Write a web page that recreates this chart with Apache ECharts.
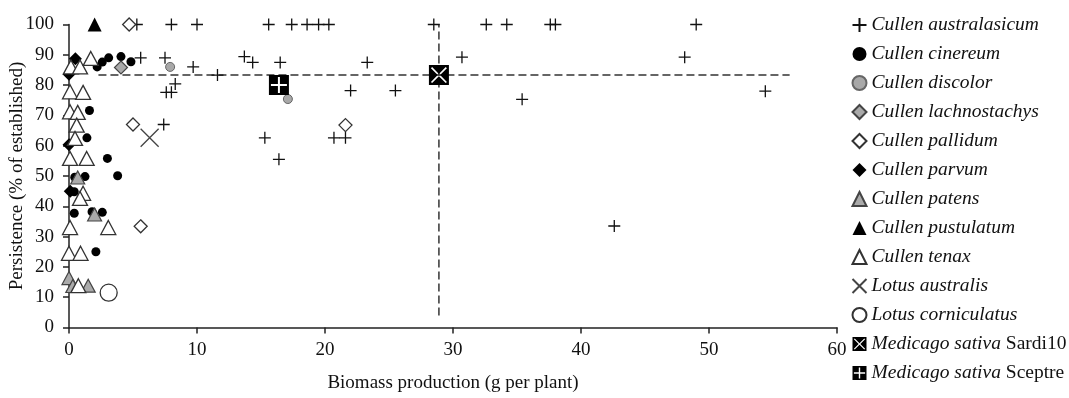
<!DOCTYPE html>
<html>
<head>
<meta charset="utf-8">
<script src="https://cdn.jsdelivr.net/npm/echarts@6/dist/echarts.min.js"></script>
<style>
html,body{margin:0;padding:0;background:#fff;}
#chart{width:1069px;height:398px;}
</style>
</head>
<body>
<div id="chart"></div>
<script>
// ---- Data (biomass g/plant, persistence %) ----
const cullenAustralasicum = [
  [5.3,100],[8.0,100],[10.0,100],[15.6,100],[17.4,100],[18.6,100],[19.5,100],[20.3,100],
  [28.5,100],[32.6,100],[34.2,100],[37.6,100],[38.0,100],[49.0,100],
  [5.6,89],[7.5,89],[9.7,86],[11.6,83.3],[13.7,89.4],[14.35,87.5],[16.5,87.5],[23.3,87.5],
  [30.7,89.2],[48.1,89.2],[7.6,77.6],[8.0,77.6],[8.3,80.4],[22.0,78.2],[25.5,78.2],
  [54.4,78],[35.4,75.3],[7.4,67],[15.3,62.6],[20.7,62.6],[21.6,62.6],[16.4,55.5],[42.6,33.5]
];
const cullenCinereum = [
  [2.2,86],[2.6,87.6],[3.1,89],[4.06,89.4],[4.84,87.7],[1.6,71.6],[1.4,62.6],[3.0,55.8],
  [3.8,50.1],[1.25,49.8],[0.45,49.6],[0.41,44.8],[0.41,37.7],[1.8,38.2],[2.6,38],[2.1,25]
];
const cullenDiscolor = [[7.9,86],[17.1,75.4]];
const cullenLachnostachys = [[4.06,85.8]];
const cullenPallidum = [[4.7,100],[5.0,67],[5.6,33.4],[21.6,66.8]];
const cullenParvum = [[0.5,88.7],[0,83.6],[0,60.3],[0.1,45]];
const cullenPatens = [[0.68,49.5],[2.0,37.3],[0,16.3],[0.3,13.7],[1.5,13.8]];
const cullenPustulatum = [[2.0,100]];
const cullenTenax = [
  [0.15,86],[0.86,86],[1.7,88.8],[0.08,77.8],[1.1,77.6],[0.08,71.2],[0.68,71],[0.6,66.8],
  [0.47,62.4],[0.08,55.8],[1.38,55.8],[1.1,44.3],[0.86,42.6],[0.08,33],[3.07,33],
  [0,24.5],[0.9,24.5],[0.73,13.8]
];
const lotusAustralis = [[6.3,62.6]];
const lotusCorniculatus = [[3.1,11.5]];
const medicagoSardi10 = [[28.9,83.3]];
const medicagoSceptre = [[16.4,80]];
// Reference (dashed) lines through Sardi10
const hLineX = [2.3, 56.3];
const hLineY = 83.3;
const vLineX = 28.9;
const vLineY = [4, 100];

const xTicks = [0, 60, 10];   // min, max, interval
const yTicks = [0, 100, 10];

const seriesNames = [
  'Cullen australasicum','Cullen cinereum','Cullen discolor','Cullen lachnostachys',
  'Cullen pallidum','Cullen parvum','Cullen patens','Cullen pustulatum','Cullen tenax',
  'Lotus australis','Lotus corniculatus','Medicago sativa Sardi10','Medicago sativa Sceptre'
];
const seriesData = [
  cullenAustralasicum, cullenCinereum, cullenDiscolor, cullenLachnostachys, cullenPallidum,
  cullenParvum, cullenPatens, cullenPustulatum, cullenTenax, lotusAustralis,
  lotusCorniculatus, medicagoSardi10, medicagoSceptre
];

// ---- Styles ----
const PLUS = 'path://M0,5L10,5M5,0L5,10';
const CROSS = 'path://M0,0L10,10M10,0L0,10';
const a = 1.2;
const SQ_X = 'path://M0,0H20V20H0Z M' + (2+a) + ',2 L2,' + (2+a) + ' L' + (10-a) + ',10 L2,' + (18-a) +
  ' L' + (2+a) + ',18 L10,' + (10+a) + ' L' + (18-a) + ',18 L18,' + (18-a) + ' L' + (10+a) + ',10 L18,' +
  (2+a) + ' L' + (18-a) + ',2 L10,' + (10-a) + 'Z';
const SQ_P = 'path://M0,0H20V20H0Z M9,2 L9,9 L2,9 L2,11 L9,11 L9,18 L11,18 L11,11 L18,11 L18,9 L11,9 L11,2Z';

const styles = [
  {symbol: PLUS, size: 12, itemStyle: {color: 'none', borderColor: '#111', borderWidth: 1.3}},
  {symbol: 'circle', size: 9, itemStyle: {color: '#000'}},
  {symbol: 'circle', size: 9, itemStyle: {color: '#a8a8a8', borderColor: '#666', borderWidth: 1}},
  {symbol: 'diamond', size: 13, itemStyle: {color: '#aaa', borderColor: '#444', borderWidth: 1.2}},
  {symbol: 'diamond', size: 13, itemStyle: {color: '#fff', borderColor: '#333', borderWidth: 1.3}},
  {symbol: 'diamond', size: 13, itemStyle: {color: '#000'}},
  {symbol: 'triangle', size: [14,13], itemStyle: {color: '#aaa', borderColor: '#444', borderWidth: 1.2}},
  {symbol: 'triangle', size: [14,14], itemStyle: {color: '#000'}},
  {symbol: 'triangle', size: [15,14], itemStyle: {color: '#fff', borderColor: '#333', borderWidth: 1.3}},
  {symbol: CROSS, size: 18, itemStyle: {color: 'none', borderColor: '#444', borderWidth: 1.3}},
  {symbol: 'circle', size: 17, itemStyle: {color: '#fff', borderColor: '#333', borderWidth: 1.3}},
  {symbol: SQ_X, size: 20, itemStyle: {color: '#000'}},
  {symbol: SQ_P, size: 20, itemStyle: {color: '#000'}}
];

const FONT = '"Liberation Serif", "Times New Roman", serif';

const series = [
  {
    type: 'line', name: 'hline', data: [[hLineX[0], hLineY], [hLineX[1], hLineY]],
    symbol: 'none', silent: true, z: 1,
    lineStyle: {color: '#333', width: 1.5, type: [8, 4]}
  },
  {
    type: 'line', name: 'vline', data: [[vLineX, vLineY[0]], [vLineX, vLineY[1]]],
    symbol: 'none', silent: true, z: 1,
    lineStyle: {color: '#333', width: 1.5, type: [8, 4]}
  }
];
seriesNames.forEach((n, i) => {
  series.push({
    type: 'scatter', name: n, data: seriesData[i],
    symbol: styles[i].symbol, symbolSize: styles[i].size,
    itemStyle: Object.assign({opacity: 1}, styles[i].itemStyle),
    z: 2 + i
  });
});

const chart = echarts.init(document.getElementById('chart'), null, {renderer: 'canvas'});
chart.setOption({
  animation: false,
  backgroundColor: '#fff',
  grid: {left: 69, right: 232, top: 24.5, bottom: 70.5, containLabel: false, outerBoundsMode: 'none'},
  xAxis: {
    type: 'value', min: xTicks[0], max: xTicks[1], interval: xTicks[2],
    name: 'Biomass production (g per plant)', nameLocation: 'middle', nameGap: 46,
    nameMoveOverlap: false,
    nameTextStyle: {fontFamily: FONT, fontSize: 19, color: '#111'},
    axisLine: {show: true, lineStyle: {color: '#222', width: 1.5}},
    axisTick: {show: true, length: 6, lineStyle: {color: '#222', width: 1.5}},
    axisLabel: {fontFamily: FONT, fontSize: 19, color: '#111', margin: 13},
    splitLine: {show: false}
  },
  yAxis: {
    type: 'value', min: yTicks[0], max: yTicks[1], interval: yTicks[2],
    name: 'Persistence (% of established)', nameLocation: 'middle', nameGap: 42,
    nameMoveOverlap: false,
    nameTextStyle: {fontFamily: FONT, fontSize: 19, color: '#111'},
    axisLine: {show: true, lineStyle: {color: '#222', width: 1.5}},
    axisTick: {show: true, length: 6, lineStyle: {color: '#222', width: 1.5}},
    axisLabel: {fontFamily: FONT, fontSize: 19, color: '#111', margin: 15},
    splitLine: {show: false}
  },
  legend: {
    data: seriesNames,
    orient: 'vertical', left: 845, top: 10,
    itemWidth: 14, itemHeight: 14, itemGap: 9,
    selectedMode: false,
    formatter: function (name) {
      if (name.indexOf('Medicago sativa ') === 0) {
        return '{i|Medicago sativa} {n|' + name.slice(16) + '}';
      }
      return '{i|' + name + '}';
    },
    textStyle: {
      fontFamily: FONT, fontSize: 19.5, color: '#111', lineHeight: 18,
      rich: {
        i: {fontFamily: FONT, fontSize: 19.5, fontStyle: 'italic', color: '#111', lineHeight: 18},
        n: {fontFamily: FONT, fontSize: 19.5, color: '#111', lineHeight: 18}
      }
    }
  },
  series: series
});
</script>
</body>
</html>
